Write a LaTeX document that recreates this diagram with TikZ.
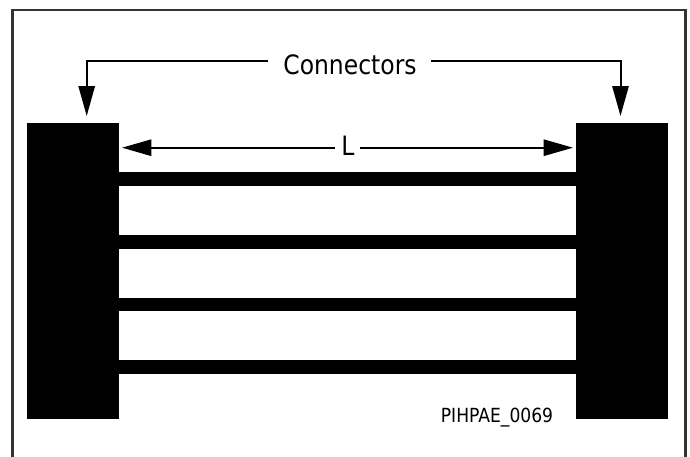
\documentclass[tikz,border=0pt]{standalone}
\usepackage{fontspec}
\setmainfont[FakeStretch=0.88]{DejaVu Sans}
\usetikzlibrary{arrows.meta}
\tikzset{
  x=0.75pt,y=-0.75pt,
  block/.style={fill=black,draw=none},
  bar/.style={fill=black,draw=none},
  lead/.style={draw=black,line width=1.5pt,-{Triangle[length=22.5pt,width=12.2pt]}},
  dim/.style={draw=black,line width=1.5pt,-{Triangle[length=22pt,width=12.2pt]}},
  label/.style={inner sep=0pt,text=black,anchor=base},
  frame/.style={draw=black!80,line width=1.7pt}
}
\begin{document}
\begin{tikzpicture}
\useasboundingbox (0,0) rectangle (690,457);
\draw[frame] (12.5,457) -- (12.5,9.7) -- (685.5,9.7) -- (685.5,457);
\fill[block] (26.5,123) rectangle (119.3,419);
\fill[block] (576,123) rectangle (668.3,419);
\foreach \y in {172,235,297.7,360.2}{
  \fill[bar] (119,\y) rectangle (577,\y+13.7);
}
\node[label,font=\fontsize{20pt}{24pt}\selectfont] (conn) at (350,74.5) {Connectors};
\node[label,font=\fontsize{20pt}{24pt}\selectfont] (len) at (348,155) {L};
\node[label,font=\fontsize{14.6pt}{17pt}\selectfont] (id) at (497,422) {PIHPAE\_0069};
\coordinate (s1) at (268,60.8);
\coordinate (s2) at (431,60.8);
\coordinate (c1) at (86.7,116);
\coordinate (c2) at (620.5,116);
\coordinate (d1) at (335,147.7);
\coordinate (d2) at (360,147.7);
\coordinate (l1) at (122,147.7);
\coordinate (l2) at (573,147.7);
\draw[lead] (s1) -| (c1);
\draw[lead] (s2) -| (c2);
\draw[dim] (d1) -- (l1);
\draw[dim] (d2) -- (l2);
\end{tikzpicture}
\end{document}
